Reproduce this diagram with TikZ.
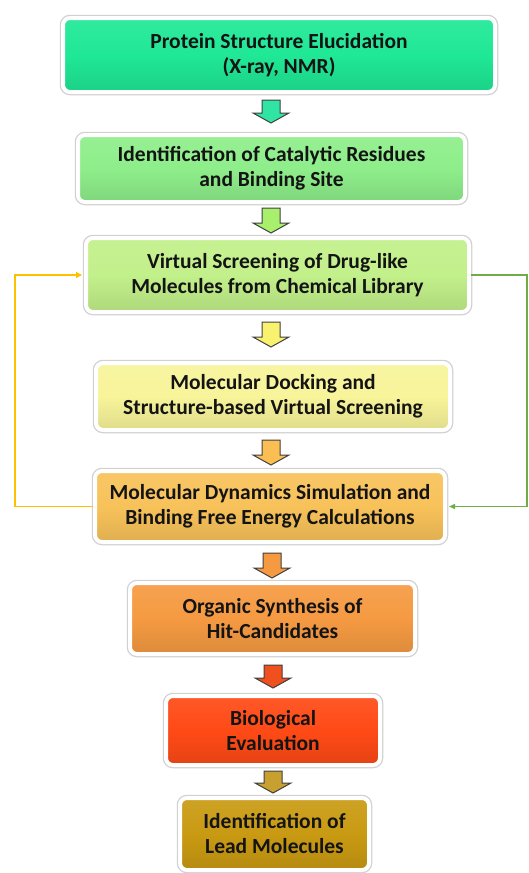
\documentclass[tikz,border=0pt]{standalone}
\usepackage{fontspec}
\setmainfont{Carlito}
\usetikzlibrary{arrows.meta}
\definecolor{c1}{HTML}{1FE896}
\definecolor{c2}{HTML}{8EEE8A}
\definecolor{c3}{HTML}{C2F08A}
\definecolor{c4}{HTML}{F8F49A}
\definecolor{c5}{HTML}{F8C25A}
\definecolor{c6}{HTML}{F59A42}
\definecolor{c7}{HTML}{FF4A16}
\definecolor{c8}{HTML}{C99A12}
\definecolor{a1}{HTML}{30E4A4}
\definecolor{a2}{HTML}{A8F06C}
\definecolor{a3}{HTML}{F8F26E}
\definecolor{a4}{HTML}{FBBE52}
\definecolor{a5}{HTML}{F59A40}
\definecolor{a6}{HTML}{F0501E}
\definecolor{a7}{HTML}{C8A030}
\definecolor{loopor}{HTML}{FFC000}
\definecolor{loopgr}{HTML}{70AD47}
\tikzset{
  stepbox/.style={rounded corners=7pt, draw=white, line width=4pt,
    preaction={draw=black!18, line width=6.5pt},
    align=center, inner sep=0pt,
    font=\fontsize{21.5}{25}\selectfont\bfseries, text=black!92},
  boxfill/.style={top color=#1!92!white, bottom color=#1!90!black, middle color=#1},
  blk/.style={draw=black!75, line width=1pt, line join=miter},
  loopline/.style={line width=1.4pt},
}
\newcommand\blkarr[4]{% x, ytop, ytip, colour
  \draw[blk, fill=#4] ({#1-9},#2) -- ({#1+9},#2) -- ({#1+9},{#3-10}) -- ({#1+18},{#3-10})
    -- (#1,#3) -- ({#1-18},{#3-10}) -- ({#1-9},{#3-10}) -- cycle;}
\begin{document}
\begin{tikzpicture}[x=1pt,y=-1pt]
\useasboundingbox[fill=white] (0,0) rectangle (528,873);
\node[stepbox, boxfill=c1, minimum width=432, minimum height=74] (b1) at (279,55)
  {Protein Structure Elucidation\\(X-ray, NMR)};
\node[stepbox, boxfill=c2, minimum width=387, minimum height=67] (b2) at (271.5,168.5)
  {Identification of Catalytic Residues\\and Binding Site};
\node[stepbox, boxfill=c3, minimum width=383, minimum height=74] (b3) at (277.5,275)
  {Virtual Screening of Drug-like\\Molecules from Chemical Library};
\node[stepbox, boxfill=c4, minimum width=354, minimum height=67] (b4) at (273,396.5)
  {Molecular Docking and\\Structure-based Virtual Screening};
\node[stepbox, boxfill=c5, minimum width=350, minimum height=71] (b5) at (270,506.5)
  {Molecular Dynamics Simulation and\\Binding Free Energy Calculations};
\node[stepbox, boxfill=c6, minimum width=285, minimum height=71] (b6) at (272.5,618.5)
  {Organic Synthesis of\\Hit-Candidates};
\node[stepbox, boxfill=c7, minimum width=214, minimum height=69] (b7) at (273,730.5)
  {Biological\\Evaluation};
\node[stepbox, boxfill=c8, minimum width=189, minimum height=72] (b8) at (274.5,834)
  {Identification of\\Lead Molecules};
% block arrows
\blkarr{271}{100}{123}{a1}
\blkarr{271}{208}{233}{a2}
\blkarr{271}{322}{347}{a3}
\blkarr{271}{440}{465}{a4}
\blkarr{272}{553}{578}{a5}
\blkarr{273}{665}{688}{a6}
\blkarr{273}{771}{793}{a7}
% feedback loops
\coordinate (ol) at (15,0);
\coordinate (gr) at (527,0);
\draw[loopline, draw=loopor, -{Triangle[length=6pt,width=6pt]}, shorten >=2pt]
  (b5.west) -- (b5.west -| ol) |- (b3.west);
\draw[loopline, draw=loopgr, -{Triangle[length=6pt,width=5pt]}, shorten >=2pt]
  (b3.east) -- (b3.east -| gr) |- (b5.east);
\end{tikzpicture}
\end{document}
